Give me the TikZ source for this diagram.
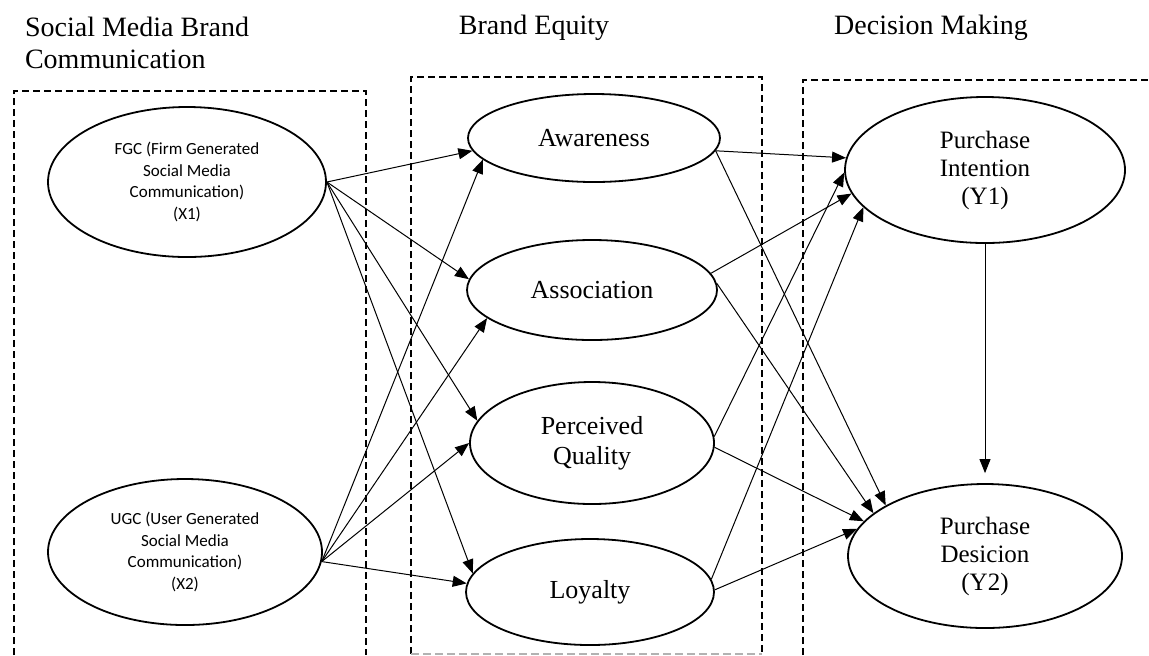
\documentclass[tikz,border=0pt]{standalone}
\usepackage{fontspec}
\setmainfont{Liberation Serif}
\newfontfamily\calib{Carlito}
\usetikzlibrary{arrows.meta,shapes.geometric}

\begin{document}
\begin{tikzpicture}[x=0.5pt,y=-0.5pt,
    oval/.style={draw,ellipse,line width=0.9pt,inner sep=0pt,align=center},
    srcoval/.style={oval,font=\calib\fontsize{8.5}{10.75}\selectfont},
    midoval/.style={oval,font=\fontsize{13}{15}\selectfont},
    outoval/.style={oval,font=\fontsize{12.5}{14}\selectfont},
    grp/.style={line width=1pt,dash pattern=on 3.5pt off 2pt},
    link/.style={-{Triangle[length=7pt,width=5.5pt]},line width=0.5pt},
    title/.style={font=\fontsize{14}{16}\selectfont,align=left}]
  \useasboundingbox (0,0) rectangle (1149,655);

  % group frames
  \draw[grp] (14,655) -- (14,91) -- (366,91) -- (366,655);
  \draw[grp] (411,654) -- (411,77) -- (762,77) -- (762,654);
  \draw[gray!60,line width=0.6pt,dash pattern=on 4pt off 2pt] (411,654) -- (762,654);
  \draw[grp] (803,655) -- (803,80) -- (1149,80);

  % titles
  \node[title,anchor=north west] (ttlsmbc) at (18,10) {Social Media Brand\\Communication};
  \node[title] (ttlbe) at (534,28) {Brand Equity};
  \node[title] (ttldm) at (931,28) {Decision Making};

  % sources
  \node[srcoval,minimum width=139pt,minimum height=75pt] (fgc) at (187,182)
    {FGC (Firm Generated\\Social Media\\Communication)\\(X1)};
  \node[srcoval,minimum width=137pt,minimum height=73pt] (ugc) at (185,552)
    {UGC (User Generated\\Social Media\\Communication)\\(X2)};

  % brand equity
  \node[midoval,minimum width=126pt,minimum height=44pt] (aware) at (594,138) {Awareness};
  \node[midoval,minimum width=125pt,minimum height=50pt] (assoc) at (592,290) {Association};
  \node[midoval,minimum width=122pt,minimum height=61pt] (qual) at (592,443) {Perceived\\Quality};
  \node[midoval,minimum width=124pt,minimum height=53pt] (loyal) at (590,592) {Loyalty};

  % decisions
  \node[outoval,minimum width=140pt,minimum height=73pt] (pint) at (985,170) {Purchase\\Intention\\(Y1)};
  \node[outoval,minimum width=137pt,minimum height=72pt] (pdec) at (985,556) {Purchase\\Desicion\\(Y2)};

  % paths
  \draw[link] (fgc.east) -- (aware.186);
  \draw[link] (fgc.east) -- (assoc.175);
  \draw[link] (fgc.east) -- (qual.169);
  \draw[link] (fgc.east) -- (loyal.171);
  \draw[link] (ugc.-4) -- (aware.191);
  \draw[link] (ugc.-4) -- (assoc.195);
  \draw[link] (ugc.-4) -- (qual.180);
  \draw[link] (ugc.-4) -- (loyal.176);

  \draw[link] (aware.-6) -- (pint.175);
  \draw[link] (aware.-6) -- (pdec.153);
  \draw[link] (assoc.8) -- (pint.190);
  \draw[link] (assoc.3) -- (pdec.159);
  \draw[link] (qual.3) -- (pint.181);
  \draw[link] (qual.-2) -- (pdec.164);
  \draw[link] (loyal.6) -- (pint.197);
  \draw[link] (loyal.1) -- (pdec.168);

  \draw[link,shorten >=5pt] (pint.south) -- (pdec.north);
\end{tikzpicture}
\end{document}
